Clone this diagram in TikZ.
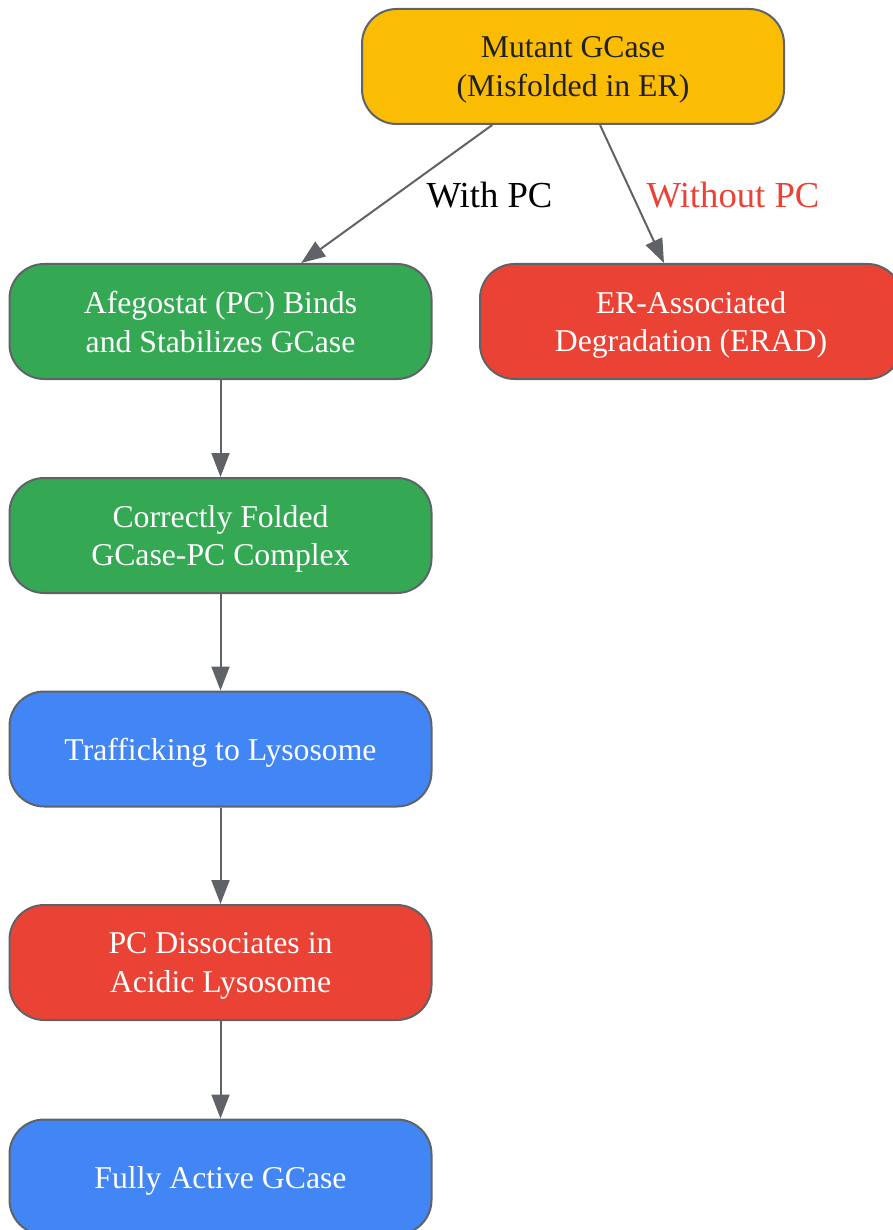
\documentclass[tikz,border=0pt]{standalone}
\usepackage{fontspec}
\setmainfont{Liberation Serif}
\usetikzlibrary{arrows.meta}

\definecolor{gyellow}{HTML}{FBBC04}
\definecolor{ggreen}{HTML}{34A853}
\definecolor{gred}{HTML}{EA4335}
\definecolor{gblue}{HTML}{4285F4}
\definecolor{gborder}{HTML}{5F6368}
\definecolor{gtext}{HTML}{202124}

\tikzset{every picture/.style={line width=1.5pt},
  stepbox/.style={draw=gborder, rounded corners=26pt, minimum width=316.5pt, minimum height=86.25pt,
    inner sep=0pt, align=center, text=white, text depth=-1pt, font=\fontsize{23.8}{29}\selectfont},
  flow/.style={draw=gborder, -{Triangle[length=18pt,width=13.5pt]}},
  edgelabel/.style={inner sep=0pt, font=\fontsize{27.5}{33}\selectfont}}

\begin{document}
\begin{tikzpicture}[x=0.75pt,y=0.75pt,yscale=-1,xscale=1]
%set diagram left start at 0, and has height of 1230
\useasboundingbox (0,0) rectangle (892,1230);

% Steps
\node[stepbox, fill=gyellow, text=gtext] (mutant) at (573,66.5) {Mutant GCase\\(Misfolded in ER)};
\node[stepbox, fill=ggreen] (binds) at (220.5,321.5) {Afegostat (PC) Binds\\and Stabilizes GCase};
\node[stepbox, fill=gred] (erad) at (691,321.5) {ER-Associated\\Degradation (ERAD)};
\node[stepbox, fill=ggreen] (folded) at (220.5,535.5) {Correctly Folded\\GCase-PC Complex};
\node[stepbox, fill=gblue] (traffic) at (220.5,749) {Trafficking to Lysosome};
\node[stepbox, fill=gred] (dissoc) at (220.5,962.5) {PC Dissociates in\\Acidic Lysosome};
\node[stepbox, fill=gblue] (active) at (220.5,1177) {Fully Active GCase};

% Arrows
\draw[flow] (mutant) -- (binds);
\draw[flow] (mutant) -- (erad);
\draw[flow] (binds) -- (folded);
\draw[flow] (folded) -- (traffic);
\draw[flow] (traffic) -- (dissoc);
\draw[flow] (dissoc) -- (active);

% Text Node
\node[edgelabel] (lblwith) at (489.5,195) {With PC};
% Text Node
\node[edgelabel, text=gred] (lblwithout) at (733,195) {Without PC};

\end{tikzpicture}
\end{document}
